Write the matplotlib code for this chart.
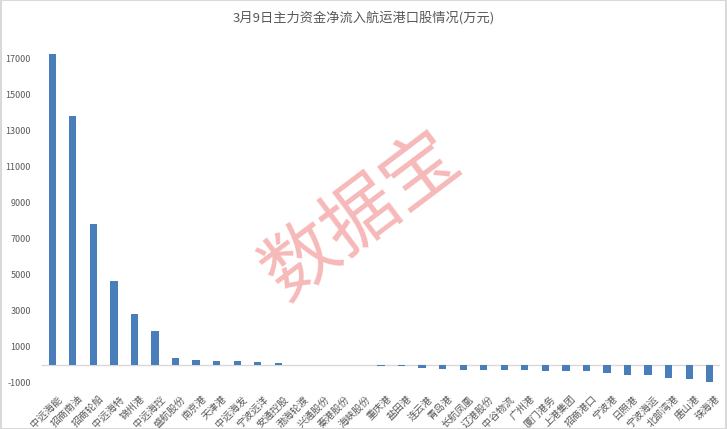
import numpy as np
import matplotlib
matplotlib.use('Agg')
import matplotlib.pyplot as plt
import matplotlib.transforms as mtransforms

plt.rcParams['font.family'] = ['Noto Sans CJK SC', 'DejaVu Sans']

names = ['中远海能', '招商南油', '招商轮船', '中远海特', '锦州港', '中远海控', '盛航股份',
         '南京港', '天津港', '中远海发', '宁波远洋', '安通控股', '渤海轮渡', '兴通股份',
         '秦港股份', '海峡股份', '重庆港', '盐田港', '连云港', '青岛港', '长航凤凰',
         '辽港股份', '中谷物流', '广州港', '厦门港务', '上港集团', '招商港口', '宁波港',
         '日照港', '宁波海运', '北部湾港', '唐山港', '珠海港']
values = [17240, 13780, 7820, 4620, 2840, 1860, 370,
          280, 220, 180, 130, 100, 8, 6,
          4, 2, -90, -100, -200, -260, -300,
          -300, -300, -320, -350, -350, -360, -450,
          -550, -580, -760, -800, -980]
yticks = [-1000, 1000, 3000, 5000, 7000, 9000, 11000, 13000, 15000, 17000]

fig = plt.figure(figsize=(7.27, 4.29), dpi=100)
ax = fig.add_axes([42/727, 1-382.7/429, (720-42)/727, (382.7-31.3)/429])

x = np.arange(len(names))
ax.bar(x, values, width=0.35, color='#4a7ebb', zorder=2)
ax.axhline(0, color='#d9d9d9', lw=1, zorder=1)

ax.set_xlim(-0.5, len(names)-0.5)
ax.set_ylim(-1000, 18500)
ax.set_yticks(yticks)
ax.set_yticklabels([str(v) for v in yticks])
ax.tick_params(axis='y', length=0, pad=8, labelsize=6.5, labelcolor='#595959')
ax.tick_params(axis='x', length=0, pad=8, labelsize=7.2, labelcolor='#595959')
ax.set_xticks(x)
ax.set_xticklabels(names, rotation=45, ha='right', va='top')
offset = mtransforms.ScaledTranslation(12/100, 0, fig.dpi_scale_trans)
for lab in ax.get_xticklabels():
    lab.set_transform(lab.get_transform() + offset)
for s in ax.spines.values():
    s.set_visible(False)

fig.text(0.5, 1-18/429, '3月9日主力资金净流入航运港口股情况(万元)', ha='center', va='center',
         fontsize=9.5, color='#595959')

# watermark
fig.text(361/727, 1-216/429, '数据宝', ha='center', va='center', rotation=37,
         fontsize=54, color='#f08080', alpha=0.55)

# light border
fig.patches.append(plt.Rectangle((0.001, 0.001), 0.998, 0.998, transform=fig.transFigure,
                                 fill=False, ec='#d9d9d9', lw=1.5))

fig.savefig('out.png', dpi=100)
